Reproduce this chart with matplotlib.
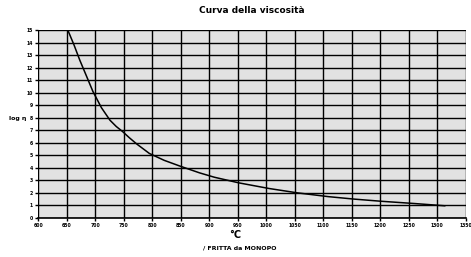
import matplotlib.pyplot as plt

# temperature ticks (°C) and log viscosity ticks
temp_ticks = list(range(600, 1351, 50))
logv_ticks = list(range(0, 16))

# viscosity curve
temp = [652, 663, 673, 685, 696, 711, 726, 737, 748, 760, 773, 795, 821, 848,
        883, 909, 952, 1005, 1055, 1109, 1155, 1202, 1260, 1313]
logv = [15.0, 13.8, 12.6, 11.3, 10.1, 8.8, 7.8, 7.3, 6.9, 6.4, 5.9, 5.15, 4.6, 4.15,
        3.6, 3.25, 2.8, 2.35, 2.0, 1.7, 1.5, 1.33, 1.15, 0.97]

fig = plt.figure(figsize=(4.71, 2.57), dpi=100)
ax = fig.add_axes([0.081, 0.152, 0.908, 0.731])
ax.set_facecolor('#e2e2e2')

ax.plot(temp, logv, color='black', lw=1.1, zorder=3)

ax.set_xlim(600, 1350)
ax.set_ylim(0, 15)
ax.set_xticks(temp_ticks)
ax.set_yticks(logv_ticks)
ax.set_xticklabels([str(t) for t in temp_ticks], fontsize=3.3, fontweight='bold')
ax.set_yticklabels([str(v) for v in logv_ticks], fontsize=3.3, fontweight='bold')
ax.tick_params(length=2, width=1, pad=2)
ax.grid(True, color='black', lw=1.0)
for s in ax.spines.values():
    s.set_visible(False)
ax.spines['bottom'].set_visible(True)
ax.spines['bottom'].set_linewidth(1.2)

ax.set_title('Curva della viscosità', fontsize=6.5, fontweight='bold', pad=12)
fig.text(0.038, 0.54, 'log η', fontsize=4.5, fontweight='bold', ha='center', va='center')
fig.text(0.5, 0.085, '°C', fontsize=7, fontweight='bold', ha='center', va='center')
fig.text(0.51, 0.035, '/ FRITTA da MONOPO', fontsize=4.5, fontweight='bold', ha='center', va='center')

plt.savefig('out.png', dpi=100)
plt.close()
